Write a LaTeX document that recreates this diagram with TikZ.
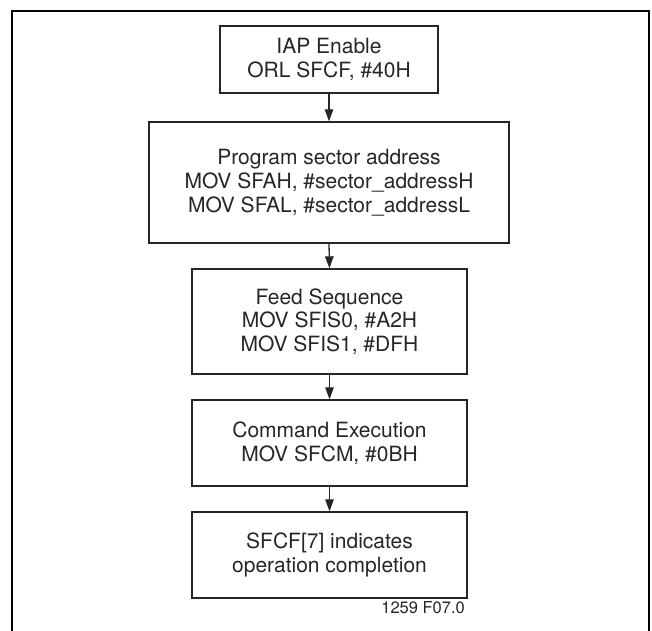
\documentclass[tikz,border=0pt]{standalone}
\usepackage{fontspec}
\setmainfont{TeX Gyre Heros}
\usetikzlibrary{arrows.meta}
\begin{document}
\begin{tikzpicture}[x=1pt,y=-1pt,
  stepbox/.style={draw=black!85, line width=1.4pt, rectangle, inner sep=0pt, align=center,
    font=\fontsize{21}{23.7}\selectfont, text=black!85},
  arr/.style={draw=black!85, line width=1.3pt, -{Triangle[length=12pt,width=8.5pt]}},
  frame/.style={draw=black, line width=2pt}]
\useasboundingbox (0,0) rectangle (652,630);
\draw[frame] (12,631) -- (12,10.5) -- (649,10.5) -- (649,631);
\node[stepbox, minimum width=218pt, minimum height=67pt] (b1) at (329,59.5)
  {IAP Enable\\ORL SFCF, \#40H};
\node[stepbox, minimum width=360pt, minimum height=121pt] (b2) at (329,182.5)
  {Program sector address\\MOV SFAH, \#sector\_addressH\\MOV SFAL, \#sector\_addressL};
\node[stepbox, minimum width=275pt, minimum height=105pt] (b3) at (329.5,321.5)
  {Feed Sequence\\MOV SFIS0, \#A2H\\MOV SFIS1, \#DFH};
\node[stepbox, minimum width=275pt, minimum height=86pt] (b4) at (329.5,443)
  {Command Execution\\MOV SFCM, \#0BH};
\node[stepbox, minimum width=275pt, minimum height=86pt] (b5) at (329.5,555)
  {SFCF[7] indicates\\operation completion};
\draw[arr] (b1.south) -- (b2.north);
\draw[arr] (b2.south) -- (b3.north);
\draw[arr] (b3.south) -- (b4.north);
\draw[arr] (b4.south) -- (b5.north);
\node[anchor=base east, inner sep=0pt, font=\fontsize{16.5}{19}\selectfont, text=black!85] (fig) at (465,613) {1259 F07.0};
\end{tikzpicture}
\end{document}
